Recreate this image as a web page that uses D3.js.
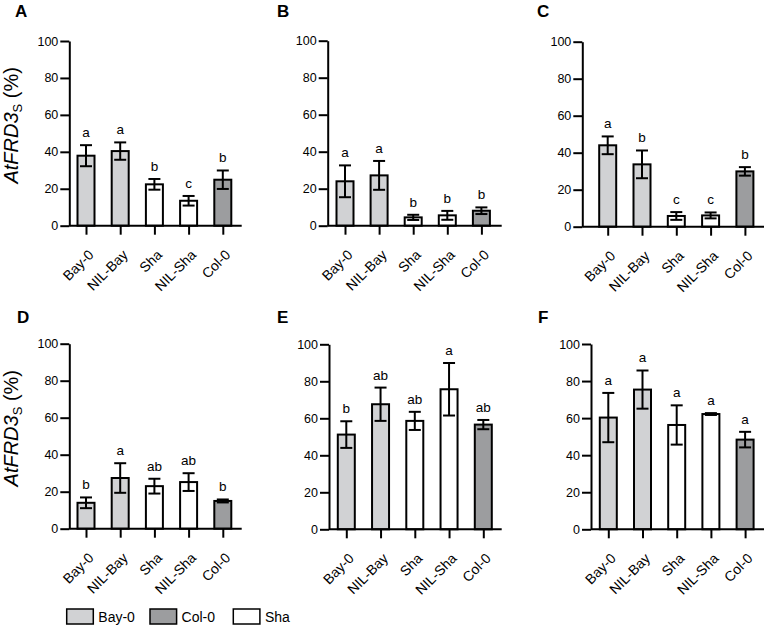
<!DOCTYPE html>
<html><head><meta charset="utf-8">
<script src="https://cdn.jsdelivr.net/npm/d3@7"></script>
<style>
body{margin:0;background:#fff;}
text{font-family:"Liberation Sans",Arial,Helvetica,sans-serif;}
</style></head>
<body><svg id="chart" width="765" height="626"></svg>
<script>
const categories = ["Bay-0","NIL-Bay","Sha","NIL-Sha","Col-0"];
const genotypeOf = ["Bay-0","Bay-0","Sha","Sha","Col-0"];
const legendKeys = ["Bay-0","Col-0","Sha"];
const legendColors = ["#d1d2d4","#9c9d9f","#ffffff"];
const yTicks = [0,20,40,60,80,100];
const panelLabels = ["A","B","C","D","E","F"];

const meansA = [37.9,40.4,22.4,13.5,24.9];
const errA   = [5.7,4.7,2.9,2.6,5.0];
const lettersA = ["a","a","b","c","b"];
const meansB = [24.0,27.2,4.5,5.6,8.1];
const errB   = [8.6,7.8,1.4,2.4,1.8];
const lettersB = ["a","a","b","b","b"];
const meansC = [44.0,33.7,5.8,6.1,29.9];
const errC   = [4.8,7.5,2.1,1.6,2.3];
const lettersC = ["a","b","c","c","b"];
const meansD = [14.0,27.4,23.0,25.2,15.0];
const errD   = [2.9,8.0,4.0,4.8,0.8];
const lettersD = ["b","a","ab","ab","b"];
const meansE = [51.2,67.6,58.6,75.7,56.6];
const errE   = [7.2,9.0,4.9,14.2,2.5];
const lettersE = ["b","ab","ab","a","ab"];
const meansF = [60.3,75.4,56.3,62.2,48.4];
const errF   = [13.3,10.3,10.6,0.5,4.2];
const lettersF = ["a","a","a","a","a"];

const panelData = [
  [meansA,errA,lettersA],[meansB,errB,lettersB],[meansC,errC,lettersC],
  [meansD,errD,lettersD],[meansE,errE,lettersE],[meansF,errF,lettersF]
];
const layout = [
  {ax:69.3, y0:225.7, y1:41,   off:16.7, step:34.2, end:241.7, lx:15,  ly:17, ylab:true},
  {ax:327.7,y0:225.7, y1:40.7, off:17.3, step:34.1, end:501.7, lx:277, ly:17},
  {ax:582.3,y0:226.7, y1:41.7, off:25.4, step:34.3, end:764,   lx:537, ly:17},
  {ax:69.3, y0:528.7, y1:343.7,off:16.7, step:34.2, end:241.7, lx:17,  ly:323, ylab:true},
  {ax:329,  y0:529.3, y1:344.3,off:17.3, step:34.25,end:501.7, lx:277, ly:323},
  {ax:591,  y0:529.3, y1:344,  off:17.3, step:34.2, end:764,   lx:538, ly:323}
];

const color = d3.scaleOrdinal(legendKeys, legendColors);
const svg = d3.select("#chart");
const barW = 17, capW = 12;

panelData.forEach(([means, errs, letters], i) => {
  const L = layout[i];
  const y = d3.scaleLinear([0,100],[L.y0,L.y1]);
  const x = d3.scalePoint(categories,[L.ax+L.off, L.ax+L.off+4*L.step]);
  const g = svg.append("g");

  g.append("text").attr("x",L.lx).attr("y",L.ly).attr("font-size",17).attr("font-weight","bold").text(panelLabels[i]);

  g.selectAll("rect.bar").data(categories).join("rect")
    .attr("x",d=>x(d)-barW/2).attr("width",barW)
    .attr("y",(d,j)=>y(means[j])).attr("height",(d,j)=>y(0)-y(means[j]))
    .attr("fill",(d,j)=>color(genotypeOf[j])).attr("stroke","#000").attr("stroke-width",2);

  const eb = g.selectAll("g.eb").data(categories).join("g");
  eb.append("line").attr("x1",d=>x(d)).attr("x2",d=>x(d))
    .attr("y1",(d,j)=>y(means[j]+errs[j])).attr("y2",(d,j)=>y(means[j]-errs[j]))
    .attr("stroke","#000").attr("stroke-width",2);
  [1,-1].forEach(s=>{
    eb.append("line").attr("x1",d=>x(d)-capW/2).attr("x2",d=>x(d)+capW/2)
      .attr("y1",(d,j)=>y(means[j]+s*errs[j])).attr("y2",(d,j)=>y(means[j]+s*errs[j]))
      .attr("stroke","#000").attr("stroke-width",2);
  });
  g.selectAll("text.sig").data(categories).join("text")
    .attr("x",d=>x(d)).attr("y",(d,j)=>y(means[j]+errs[j])-8)
    .attr("text-anchor","middle").attr("font-size",13.5).text((d,j)=>letters[j]);

  const ya = g.append("g").attr("transform",`translate(${L.ax},0)`)
    .call(d3.axisLeft(y).tickValues(yTicks).tickSize(9).tickSizeOuter(0).tickPadding(2));
  ya.select(".domain").attr("stroke-width",2);
  ya.selectAll(".tick line").attr("stroke-width",2);
  ya.selectAll(".tick text").attr("font-size",12.5).attr("fill","#000")
    .style("font-family","'Liberation Sans',Arial,sans-serif");

  const xa = g.append("g").attr("transform",`translate(0,${L.y0})`)
    .call(d3.axisBottom(x).tickSize(9).tickSizeOuter(0));
  xa.select(".domain").remove();
  xa.append("line").attr("x1",L.ax).attr("x2",L.end).attr("stroke","#000").attr("stroke-width",2);
  xa.selectAll(".tick line").attr("stroke-width",2);
  xa.selectAll(".tick text").attr("font-size",14).attr("fill","#000")
    .style("font-family","'Liberation Sans',Arial,sans-serif")
    .attr("text-anchor","end").attr("dy",null).attr("y",null)
    .attr("transform","translate(8,30) rotate(-45)");

  if (L.ylab) {
    const cy = (L.y0+L.y1)/2 - 8;
    const t = g.append("text").attr("transform",`translate(18,${cy}) rotate(-90)`)
      .attr("text-anchor","middle").attr("font-size",20);
    t.append("tspan").attr("font-style","italic").text("AtFRD3");
    t.append("tspan").attr("font-size",13).attr("dy",4).text("S");
    t.append("tspan").attr("dy",-4).text(" (%)");
  }
});

const lg = svg.append("g");
legendKeys.forEach((k,i)=>{
  const lx = 66.7 + i*83.3;
  lg.append("rect").attr("x",lx).attr("y",609).attr("width",26.6).attr("height",15)
    .attr("fill",color(k)).attr("stroke","#000").attr("stroke-width",1.5);
  lg.append("text").attr("x",lx+31.6).attr("y",622).attr("font-size",14).text(k);
});
</script></body></html>
